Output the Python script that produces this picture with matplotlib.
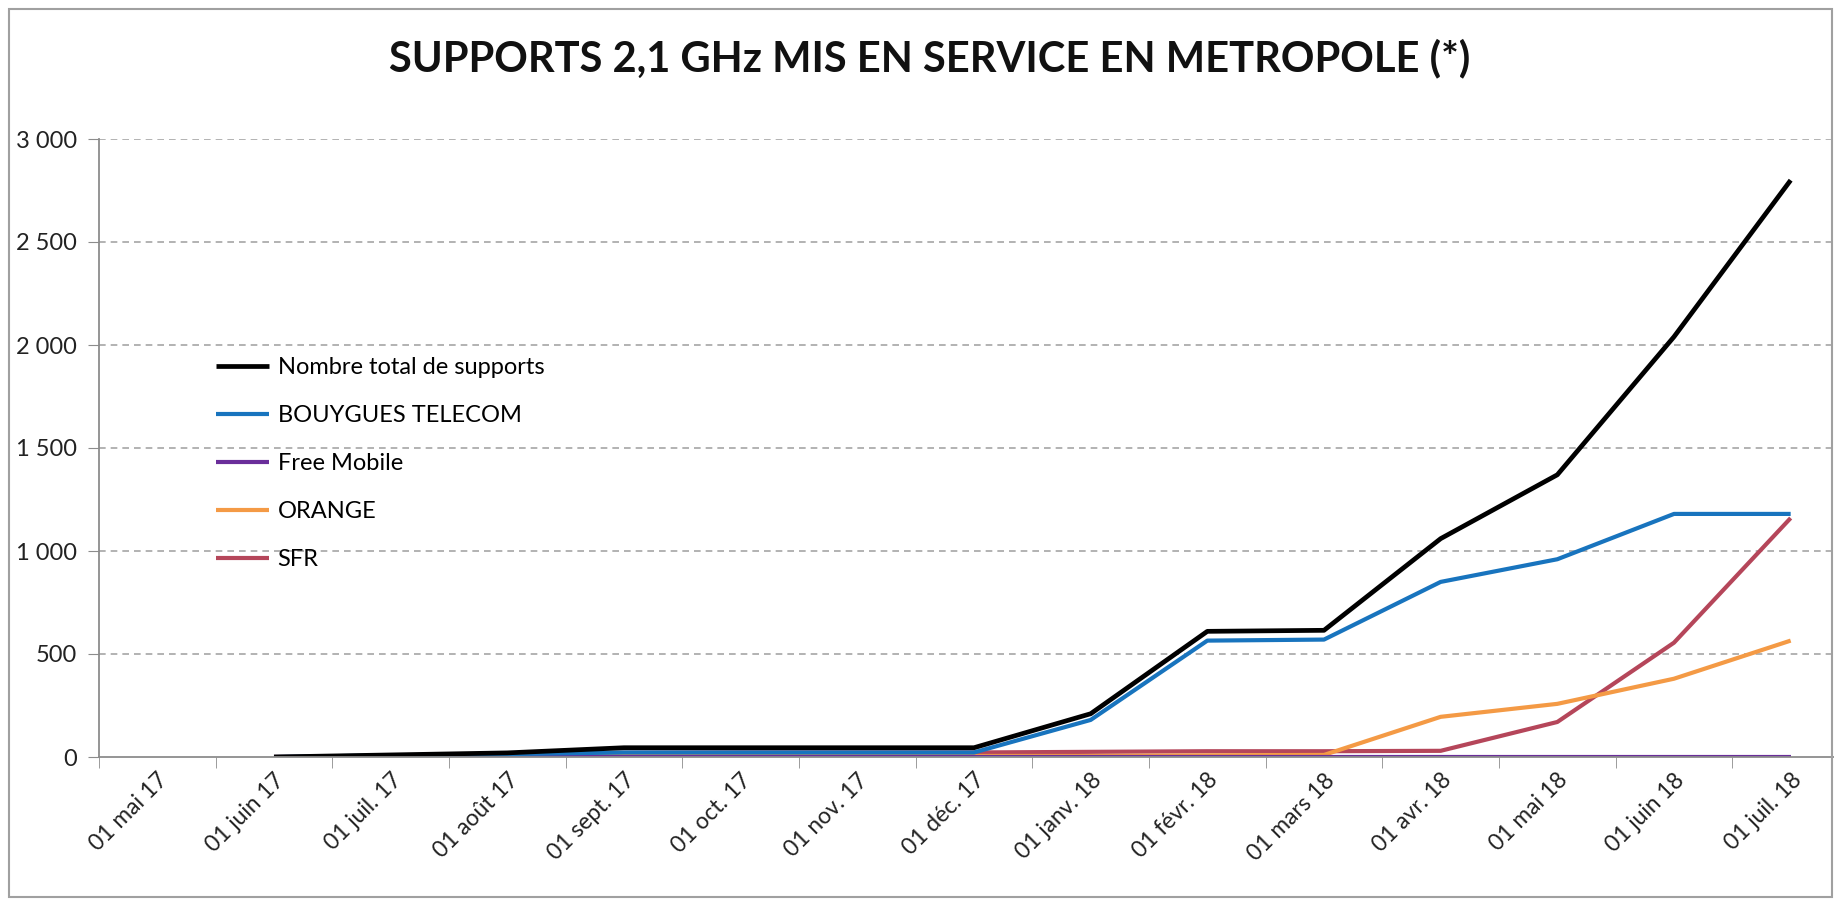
import matplotlib
matplotlib.use("Agg")
import matplotlib.pyplot as plt
from matplotlib.patches import Rectangle

# categories (months)
mois = ["01 mai 17", "01 juin 17", "01 juil. 17", "01 août 17", "01 sept. 17",
        "01 oct. 17", "01 nov. 17", "01 déc. 17", "01 janv. 18", "01 févr. 18",
        "01 mars 18", "01 avr. 18", "01 mai 18", "01 juin 18", "01 juil. 18"]

# values start at "01 juin 17"
total = [0, 10, 20, 45, 45, 45, 45, 210, 610, 615, 1060, 1370, 2040, 2800]
bouygues = [0, 8, 14, 22, 22, 22, 22, 180, 565, 570, 850, 960, 1180, 1180]
free = [0, 0, 0, 0, 0, 0, 0, 0, 0, 0, 0, 0, 0, 0]
orange = [0, 1, 3, 5, 5, 5, 5, 5, 8, 10, 195, 258, 380, 565]
sfr = [0, 3, 8, 20, 22, 22, 22, 25, 28, 28, 30, 170, 555, 1160]

series = [
    ("Nombre total de supports", total, "#000000"),
    ("BOUYGUES TELECOM", bouygues, "#1874BE"),
    ("Free Mobile", free, "#6A2E9A"),
    ("ORANGE", orange, "#F49A45"),
    ("SFR", sfr, "#B5465A"),
]

y_ticks = [0, 500, 1000, 1500, 2000, 2500, 3000]
y_labels = ["0", "500", "1 000", "1 500", "2 000", "2 500", "3 000"]

plt.rcParams["font.family"] = ["Lato", "DejaVu Sans"]

fig = plt.figure(figsize=(18.34, 8.99), dpi=100)
ax = fig.add_axes([99 / 1834, 142 / 899, 1750 / 1834, 618 / 899])

x = list(range(len(mois)))
x_data = x[1:]
# draw in reverse so total sits on top
for nom, vals, couleur in reversed(series):
    lw = 3.4 if nom.startswith("Nombre") else 3.0
    ax.plot(x_data, vals, color=couleur, linewidth=lw, label=nom, solid_capstyle="butt")

ax.set_xlim(-0.5, len(mois) - 0.5)
ax.set_ylim(0, 3000)

ax.set_yticks(y_ticks)
ax.set_yticklabels(y_labels, fontsize=17, color="#222222")
ax.set_xticks(x)
ax.set_xticklabels(mois, rotation=45, ha="right", va="top", rotation_mode="anchor",
                   fontsize=16.5, color="#222222")
ax.tick_params(axis="x", which="major", length=0, pad=9)
ax.set_xticks([i - 0.5 for i in x], minor=True)
ax.tick_params(axis="x", which="minor", length=8, color="#8c8c8c", direction="out")
ax.tick_params(axis="y", length=8, color="#8c8c8c", pad=8)

for s in ["top", "right"]:
    ax.spines[s].set_visible(False)
for s in ["left", "bottom"]:
    ax.spines[s].set_color("#8c8c8c")
    ax.spines[s].set_linewidth(1.3)

for v in y_ticks[1:]:
    ax.axhline(v, color="#a6a6a6", linestyle=(0, (4, 3)), linewidth=1.2, zorder=0)

handles, labels = ax.get_legend_handles_labels()
leg = fig.legend(handles[::-1], labels[::-1], loc="upper left",
                 bbox_to_anchor=(195 / 1834, 1 - 336 / 899), frameon=False,
                 fontsize=17, handlelength=2.25, handletextpad=0.35, labelspacing=1.14)

fig.text(0.507, 1 - 58 / 899, "SUPPORTS 2,1 GHz MIS EN SERVICE EN METROPOLE (*)",
         ha="center", va="center", fontsize=30, fontweight="bold", color="#111111")

fig.patches.append(Rectangle((0.005, 0.002), 0.994, 0.988, transform=fig.transFigure,
                             fill=False, edgecolor="#a0a0a0", linewidth=1.5))

fig.savefig("out.png", dpi=100)
